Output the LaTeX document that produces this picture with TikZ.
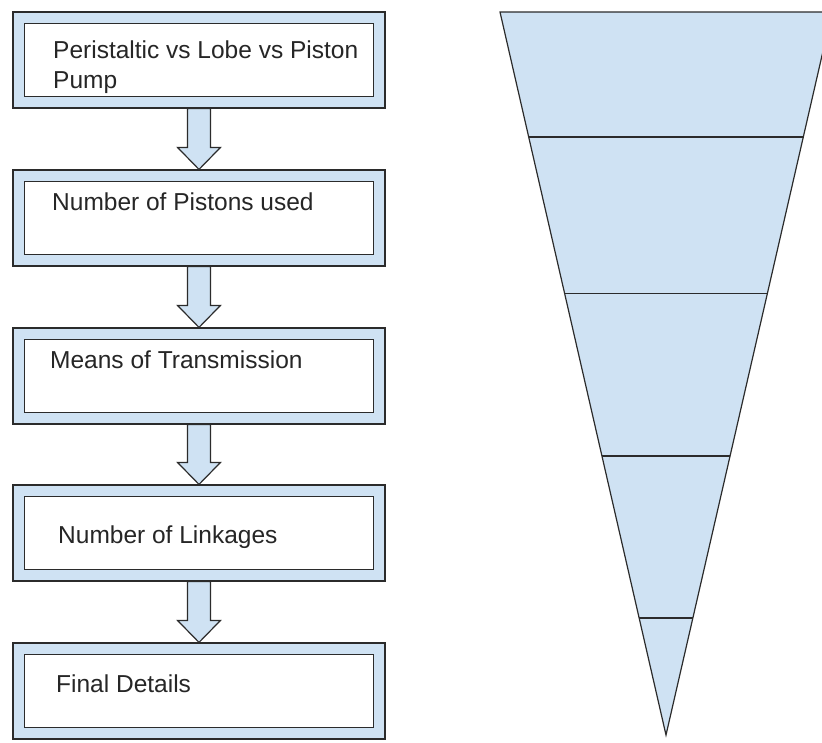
\documentclass[tikz,border=0pt]{standalone}
\usepackage{fontspec}
\setmainfont{Liberation Sans}
\usetikzlibrary{calc}
\definecolor{BoxBlue}{HTML}{CFE2F3}
\definecolor{EdgeDark}{HTML}{2B2B2B}

\begin{document}
\begin{tikzpicture}[x=1pt,y=-1pt,
    outerbox/.style={draw=EdgeDark,fill=BoxBlue,line width=1.2pt,
      minimum width=372pt,minimum height=96pt,inner sep=0pt},
    innerbox/.style={draw=EdgeDark,fill=white,line width=1.2pt,
      minimum width=349pt,minimum height=73pt,inner sep=0pt},
    boxtext/.style={anchor=base west,inner sep=0pt,align=left,
      font=\fontsize{24.5}{30}\selectfont,text=black!85},
    blockarrow/.style={draw=EdgeDark,fill=BoxBlue,line width=1.2pt,line join=miter},
    funnel/.style={draw=EdgeDark,fill=BoxBlue,line width=1.2pt}]
  \useasboundingbox (0,0) rectangle (822,742);

  % step boxes
  \foreach \n/\y in {1/60,2/218,3/376,4/533,5/691} {
    \node[outerbox] (b\n) at (199,\y) {};
    \node[innerbox] (i\n) at (b\n) {};
  }
  \node[boxtext] (t1) at (53,88) {Peristaltic vs Lobe vs Piston\\Pump};
  \node[boxtext] (t2) at (52,210) {Number of Pistons used};
  \node[boxtext] (t3) at (50,368) {Means of Transmission};
  \node[boxtext] (t4) at (58,543) {Number of Linkages};
  \node[boxtext] (t5) at (56,692) {Final Details};

  % block arrows
  \foreach \a/\b in {1/2,2/3,3/4,4/5}
    \draw[blockarrow] ($(b\a.south)+(-11.5,0)$) -- ($(b\b.north)+(-11.5,-22)$)
      -- ($(b\b.north)+(-21.5,-22)$) -- (b\b.north) -- ($(b\b.north)+(21.5,-22)$)
      -- ($(b\b.north)+(11.5,-22)$) -- ($(b\a.south)+(11.5,0)$) -- cycle;

  % funnel
  \coordinate (fa) at (500,12);
  \coordinate (fb) at (832,12);
  \coordinate (ft) at (666,735);
  \draw[funnel] (fa) -- (fb) -- (ft) -- cycle;
  \foreach \t in {0.173,0.389,0.614,0.838}
    \draw[EdgeDark,line width=1.3pt] ($(fa)!\t!(ft)$) -- ($(fb)!\t!(ft)$);
\end{tikzpicture}
\end{document}
